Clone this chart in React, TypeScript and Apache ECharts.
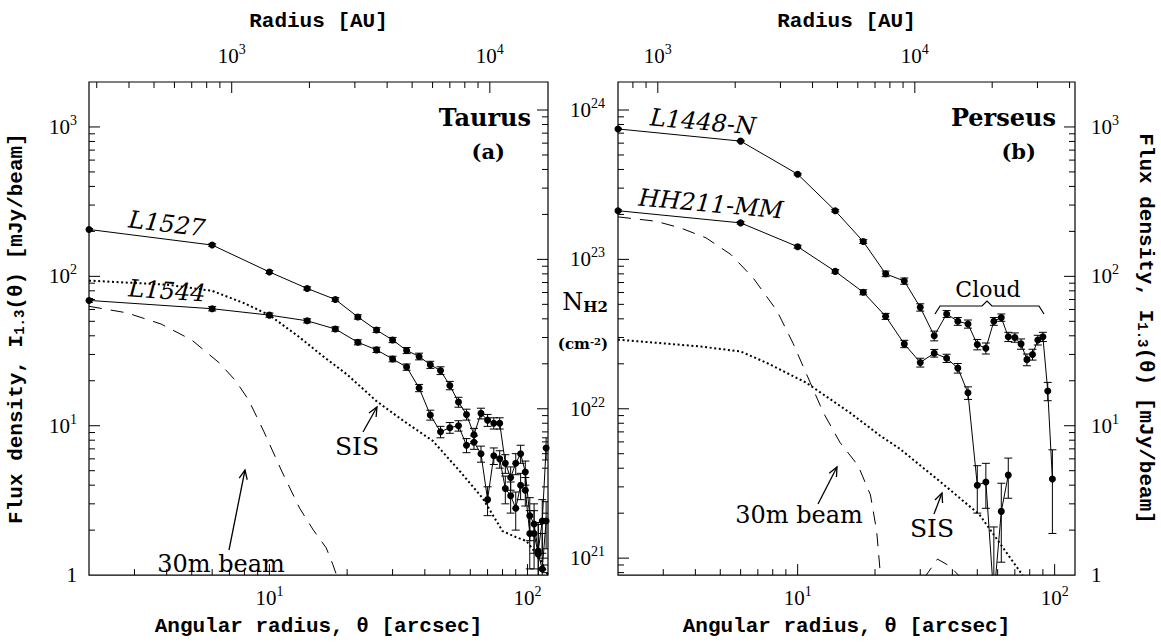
import React, { useEffect, useRef } from 'react';
import * as echarts from 'echarts';

// ---------- axis ranges & conversions ----------
const THETA_MIN = 2;
const THETA_MAX = 120;
const FLUX_MIN = 1;
const FLUX_MAX = 2000;
const D_TAURUS = 140; // pc -> AU per arcsec
const D_PERSEUS = 350;
const N_PER_MJY = 7.7e20; // N_H2 (cm^-2) per mJy/beam

// ---------- Taurus (a) ----------
const TAURUS_THETA = [2, 6, 10, 14, 18, 22, 26, 30, 34, 38, 42, 46, 50, 54, 58, 62, 66, 70, 74, 78, 82, 86, 90, 94, 98, 102, 106, 110, 114, 118];
const L1527_FLUX = [206, 162, 107, 83, 70, 53.5, 43.7, 37.5, 31.9, 29.1, 25.6, 23.4, 18.6, 14.4, 11.9, 8.7, 12.1, 10.9, 10.4, 10.4, 5.6, 4.5, 5.6, 6.5, 4.9, 2.5, 2.2, 1.45, 2.3, 7.1];
const L1527_ERR = [3, 3, 2.5, 2, 2, 1.8, 1.6, 1.5, 1.5, 1.5, 1.4, 1.4, 1.2, 1.1, 1.0, 0.9, 1.0, 1.0, 0.9, 0.9, 0.8, 0.8, 0.9, 0.9, 0.9, 0.8, 0.8, 0.8, 0.9, 1.2];
const L1544_FLUX = [69, 60.7, 55, 50.4, 44.4, 36.2, 32.2, 28, 24.7, 17.9, 11.8, 9.1, 9.7, 10, 7.4, 7.75, 6.5, 3.2, 6.3, 6.0, 3.8, 3.4, 2.8, 4.0, 3.7, 1.9, 1.9, 1.38, 1.1, 2.3];
const L1544_ERR = [2, 2, 1.8, 1.6, 1.5, 1.4, 1.3, 1.2, 1.2, 1.0, 0.9, 0.8, 0.8, 0.8, 0.8, 0.8, 0.8, 0.7, 0.8, 0.8, 0.8, 0.8, 0.8, 0.8, 0.8, 0.8, 0.8, 0.8, 0.8, 0.8];
const TAURUS_SIS_THETA = [2, 4, 6, 8, 10, 13, 16, 20, 26, 33, 43, 55, 67, 80, 90, 99, 111, 120];
const TAURUS_SIS_FLUX = [93.6, 88, 80, 66, 55, 39.4, 29.5, 22, 14.6, 10.8, 7.9, 4.9, 3.27, 1.97, 1.8, 1.69, 1.31, 1.0];
const TAURUS_BEAM_THETA = [2, 2.8, 3.8, 5, 6.4, 7.4, 8.3, 9.5, 11.2, 13.1, 14.8, 16.6, 17.6, 18.2];
const TAURUS_BEAM_FLUX = [63, 57, 48, 37.5, 26.3, 20, 14.9, 9.2, 4.9, 2.8, 2.0, 1.52, 1.18, 1.0];

// ---------- Perseus (b) ----------
const PERSEUS_THETA = [2, 6, 10, 14, 18, 22, 26, 30, 34, 38, 42, 46, 50, 54, 58, 62, 66, 70, 74, 78, 82, 86, 90, 94, 98];
const L1448N_FLUX = [970, 804, 483, 275, 171, 104, 93, 62, 40, 56, 50, 48, 35, 33, 50, 53, 39.4, 39, 35.3, 27.7, 30, 37.5, 39.4, 17.1, 4.4];
const L1448N_ERR = [10, 8, 6, 5, 5, 4.5, 4.5, 3.5, 3, 3, 3, 3, 2.8, 2.8, 3, 3, 2.8, 2.8, 2.8, 2.5, 2.5, 2.8, 2.8, 2.4, 2.5];
const HH211_THETA = [2, 6, 10, 14, 18, 22, 26, 30, 34, 38, 42, 46, 50, 54, 58, 62, 66];
const HH211_FLUX = [275, 228, 158, 108, 78.3, 54, 35.3, 26.5, 30.6, 28.3, 24.3, 16.6, 4.0, 4.2, 0.7, 2.67, 4.67];
const HH211_ERR = [4, 4, 3.5, 3, 3, 2.5, 2, 1.8, 1.8, 1.8, 1.8, 1.6, 1.4, 1.4, 1.4, 1.45, 1.4];
const PERSEUS_SIS_THETA = [2, 4.2, 6, 7.6, 10.8, 16, 20.9, 25, 36, 51, 75];
const PERSEUS_SIS_FLUX = [37.7, 33.9, 31.4, 26.3, 19.4, 12.2, 8.6, 7.0, 4.2, 2.54, 1.0];
const PERSEUS_BEAM_THETA = [2, 2.8, 3.5, 4.4, 5.5, 6.7, 8.3, 9.6, 11.2, 12.6, 14.6, 17.2, 19.2, 20.3, 21];
const PERSEUS_BEAM_FLUX = [250, 234, 211, 181, 140, 98, 59, 35.6, 19.4, 12.2, 7.75, 5.4, 3.44, 1.97, 1.0];
const PERSEUS_LOBE_THETA = [31, 35, 39, 43];
const PERSEUS_LOBE_FLUX = [0.95, 1.28, 1.15, 0.97];

// ---------- fonts ----------
const TICKFONT = "'Liberation Serif', serif";
const MONO = "'Liberation Mono', monospace";

function powLabel(v: number): string {
  const l = Math.log10(v);
  const r = Math.round(l);
  if (Math.abs(l - r) > 1e-4) return '';
  if (r === 0) return '{b|1}';
  return '{b|10}{sup|' + r + '}';
}

const tickLabel = (margin: number) => ({
  formatter: powLabel,
  fontFamily: TICKFONT,
  fontSize: 21,
  lineHeight: 27,
  color: '#000',
  margin,
  showMinLabel: true,
  showMaxLabel: true,
  rich: {
    b: { fontFamily: TICKFONT, fontSize: 21, lineHeight: 27, color: '#000' },
    sup: { fontFamily: TICKFONT, fontSize: 14, lineHeight: 14, color: '#000', verticalAlign: 'top' },
  },
});

function logTicks(lo: number, hi: number): [number, boolean][] {
  const out: [number, boolean][] = [];
  for (let e = Math.floor(Math.log10(lo)); e <= Math.ceil(Math.log10(hi)); e++) {
    for (let k = 1; k <= 9; k++) {
      const v = k * Math.pow(10, e);
      if (v > lo * 1.0001 && v < hi * 0.9999) out.push([v, k === 1]);
    }
  }
  return out;
}

function tickData(dist: number, leftIsN: boolean, rightIsN: boolean) {
  const d: number[][] = [];
  logTicks(THETA_MIN, THETA_MAX).forEach(([v, m]) => d.push([v, FLUX_MIN, 0, m ? 1 : 0]));
  logTicks(THETA_MIN * dist, THETA_MAX * dist).forEach(([v, m]) => d.push([v / dist, FLUX_MIN, 1, m ? 1 : 0]));
  const yTicks = (isN: boolean, side: number) => {
    if (isN) logTicks(FLUX_MIN * N_PER_MJY, FLUX_MAX * N_PER_MJY).forEach(([v, m]) => d.push([THETA_MIN, v / N_PER_MJY, side, m ? 1 : 0]));
    else logTicks(FLUX_MIN, FLUX_MAX).forEach(([v, m]) => d.push([THETA_MIN, v, side, m ? 1 : 0]));
  };
  yTicks(leftIsN, 2);
  yTicks(rightIsN, 3);
  return d;
}

function tickSeries(xIdx: number, yIdx: number, data: number[][]) {
  return {
    type: 'custom',
    xAxisIndex: xIdx,
    yAxisIndex: yIdx,
    silent: true,
    clip: false,
    z: 5,
    data,
    renderItem: (_p: any, api: any) => {
      const a = api.value(0);
      const b = api.value(1);
      const side = api.value(2);
      const len = api.value(3) ? 11 : 6;
      let shape;
      if (side === 0) {
        const p = api.coord([a, FLUX_MIN]);
        shape = { x1: p[0], y1: p[1], x2: p[0], y2: p[1] - len };
      } else if (side === 1) {
        const p = api.coord([a, FLUX_MAX]);
        shape = { x1: p[0], y1: p[1], x2: p[0], y2: p[1] + len };
      } else if (side === 2) {
        const p = api.coord([THETA_MIN, b]);
        shape = { x1: p[0], y1: p[1], x2: p[0] + len, y2: p[1] };
      } else {
        const p = api.coord([THETA_MAX, b]);
        shape = { x1: p[0], y1: p[1], x2: p[0] - len, y2: p[1] };
      }
      return { type: 'line', shape, style: { stroke: '#000', lineWidth: 1 } };
    },
  };
}

function errSeries(xIdx: number, yIdx: number, theta: number[], flux: number[], err: number[]) {
  return {
    type: 'custom',
    xAxisIndex: xIdx,
    yAxisIndex: yIdx,
    silent: true,
    clip: true,
    z: 3,
    data: theta.map((t, i) => [t, flux[i], err[i]]),
    renderItem: (_p: any, api: any) => {
      const x = api.value(0);
      const y = api.value(1);
      const e = api.value(2);
      const top = api.coord([x, y + e]);
      const bot = api.coord([x, Math.max(y - e, 0.01)]);
      const cx = top[0];
      const st = { stroke: '#000', lineWidth: 1 };
      return {
        type: 'group',
        children: [
          { type: 'line', shape: { x1: cx, y1: top[1], x2: cx, y2: bot[1] }, style: st },
          { type: 'line', shape: { x1: cx - 4, y1: top[1], x2: cx + 4, y2: top[1] }, style: st },
          { type: 'line', shape: { x1: cx - 4, y1: bot[1], x2: cx + 4, y2: bot[1] }, style: st },
        ],
      };
    },
  };
}

function dataLine(xIdx: number, yIdx: number, theta: number[], flux: number[]) {
  return {
    type: 'line',
    xAxisIndex: xIdx,
    yAxisIndex: yIdx,
    data: theta.map((t, i) => [t, flux[i]]),
    symbol: 'circle',
    symbolSize: 7,
    showAllSymbol: true,
    itemStyle: { color: '#000' },
    lineStyle: { color: '#000', width: 1 },
    clip: true,
    silent: true,
    z: 4,
  };
}

function styledLine(xIdx: number, yIdx: number, theta: number[], flux: number[], dash: number[], width: number) {
  return {
    type: 'line',
    xAxisIndex: xIdx,
    yAxisIndex: yIdx,
    data: theta.map((t, i) => [t, flux[i]]),
    symbol: 'none',
    lineStyle: { color: '#000', width, type: dash },
    clip: true,
    silent: true,
    z: 2,
  };
}

function arrow(x1: number, y1: number, x2: number, y2: number) {
  const ang = Math.atan2(y2 - y1, x2 - x1);
  const L = 10;
  const a = 0.42;
  return [
    { type: 'line', z: 10, shape: { x1, y1, x2, y2 }, style: { stroke: '#000', lineWidth: 1.3 } },
    {
      type: 'polyline',
      z: 10,
      shape: {
        points: [
          [x2 - L * Math.cos(ang - a), y2 - L * Math.sin(ang - a)],
          [x2, y2],
          [x2 - L * Math.cos(ang + a), y2 - L * Math.sin(ang + a)],
        ],
      },
      style: { stroke: '#000', fill: null, lineWidth: 1.3 },
    },
  ];
}

function label(text: string, x: number, y: number, font: string, opts: any = {}) {
  return {
    type: 'text',
    x,
    y,
    rotation: opts.rotation || 0,
    z: 10,
    style: {
      text,
      font,
      fill: '#000',
      textAlign: opts.align || 'center',
      textVerticalAlign: 'middle',
      rich: opts.rich,
    },
  };
}

const titleStyle = {
  fontFamily: MONO,
  fontSize: 21,
  fontWeight: 'bold',
  color: '#000',
  rich: {
    sub: { fontFamily: MONO, fontSize: 14, fontWeight: 'bold', color: '#000', verticalAlign: 'bottom', lineHeight: 14 },
  },
};

function buildOption() {
  const noLine = { show: false };
  const xAxis = [
    { type: 'log', logBase: 10, gridIndex: 0, position: 'bottom', min: THETA_MIN, max: THETA_MAX, axisLine: noLine, axisTick: noLine, splitLine: noLine, axisLabel: tickLabel(9),
      name: 'Angular radius, θ [arcsec]', nameLocation: 'middle', nameGap: 37, nameTextStyle: titleStyle },
    { type: 'log', logBase: 10, gridIndex: 0, position: 'top', min: THETA_MIN * D_TAURUS, max: THETA_MAX * D_TAURUS, axisLine: noLine, axisTick: noLine, splitLine: noLine, axisLabel: tickLabel(13),
      name: 'Radius [AU]', nameLocation: 'middle', nameGap: 50, nameTextStyle: titleStyle },
    { type: 'log', logBase: 10, gridIndex: 1, position: 'bottom', min: THETA_MIN, max: THETA_MAX, axisLine: noLine, axisTick: noLine, splitLine: noLine, axisLabel: tickLabel(9),
      name: 'Angular radius, θ [arcsec]', nameLocation: 'middle', nameGap: 37, nameTextStyle: titleStyle },
    { type: 'log', logBase: 10, gridIndex: 1, position: 'top', min: THETA_MIN * D_PERSEUS, max: THETA_MAX * D_PERSEUS, axisLine: noLine, axisTick: noLine, splitLine: noLine, axisLabel: tickLabel(13),
      name: 'Radius [AU]', nameLocation: 'middle', nameGap: 50, nameTextStyle: titleStyle },
  ];
  const yAxis = [
    { type: 'log', logBase: 10, gridIndex: 0, position: 'left', min: FLUX_MIN, max: FLUX_MAX, axisLine: noLine, axisTick: noLine, splitLine: noLine, axisLabel: tickLabel(12),
      name: 'Flux density, I{sub|1.3}(θ) [mJy/beam]', nameLocation: 'middle', nameRotate: 90, nameGap: 62, nameTextStyle: titleStyle },
    { type: 'log', logBase: 10, gridIndex: 1, position: 'left', min: FLUX_MIN * N_PER_MJY, max: FLUX_MAX * N_PER_MJY, axisLine: noLine, axisTick: noLine, splitLine: noLine, axisLabel: tickLabel(13) },
    { type: 'log', logBase: 10, gridIndex: 1, position: 'right', min: FLUX_MIN, max: FLUX_MAX, axisLine: noLine, axisTick: noLine, splitLine: noLine, axisLabel: tickLabel(16),
      name: 'Flux density, I{sub|1.3}(θ) [mJy/beam]', nameLocation: 'middle', nameRotate: -90, nameGap: 60, nameTextStyle: titleStyle },
  ];

  const series: any[] = [
    tickSeries(0, 0, tickData(D_TAURUS, false, true)),
    tickSeries(2, 2, tickData(D_PERSEUS, true, false)),
    styledLine(0, 0, TAURUS_SIS_THETA, TAURUS_SIS_FLUX, [2, 2.6], 2),
    styledLine(0, 0, TAURUS_BEAM_THETA, TAURUS_BEAM_FLUX, [13, 9], 1),
    errSeries(0, 0, TAURUS_THETA, L1527_FLUX, L1527_ERR),
    errSeries(0, 0, TAURUS_THETA, L1544_FLUX, L1544_ERR),
    dataLine(0, 0, TAURUS_THETA, L1527_FLUX),
    dataLine(0, 0, TAURUS_THETA, L1544_FLUX),
    styledLine(2, 2, PERSEUS_SIS_THETA, PERSEUS_SIS_FLUX, [2, 2.6], 2),
    styledLine(2, 2, PERSEUS_BEAM_THETA, PERSEUS_BEAM_FLUX, [13, 9], 1),
    styledLine(2, 2, PERSEUS_LOBE_THETA, PERSEUS_LOBE_FLUX, [13, 9], 1),
    errSeries(2, 2, PERSEUS_THETA, L1448N_FLUX, L1448N_ERR),
    errSeries(2, 2, HH211_THETA, HH211_FLUX, HH211_ERR),
    dataLine(2, 2, PERSEUS_THETA, L1448N_FLUX),
    dataLine(2, 2, HH211_THETA, HH211_FLUX),
  ];

  const italic = "italic 24px 'DejaVu Serif', serif";
  const annot = "24px 'DejaVu Serif', serif";
  const graphic: any[] = [
    label('L1527', 167, 224, italic, { rotation: -0.12 }),
    label('L1544', 167, 291, italic, { rotation: -0.07 }),
    label('L1448-N', 703, 122, italic, { rotation: -0.09 }),
    label('HH211-MM', 711, 204, italic, { rotation: -0.09 }),
    label('Taurus', 531, 117, "bold 24px 'DejaVu Serif', serif", { align: 'right' }),
    label('(a)', 505, 151, "bold 21px 'DejaVu Serif', serif", { align: 'right' }),
    label('Perseus', 1056, 117, "bold 24px 'DejaVu Serif', serif", { align: 'right' }),
    label('(b)', 1036, 151, "bold 21px 'DejaVu Serif', serif", { align: 'right' }),
    label('SIS', 357, 446, "25px 'DejaVu Serif', serif"),
    ...arrow(363, 432, 377, 407),
    label('SIS', 932, 528, "25px 'DejaVu Serif', serif"),
    ...arrow(934, 514, 942, 493),
    label('30m beam', 221, 564, annot),
    ...arrow(229, 550, 245, 470),
    label('30m beam', 799, 515, annot),
    ...arrow(818, 504, 837, 467),
    label('Cloud', 988, 289, "22px 'DejaVu Serif', serif"),
    {
      type: 'polyline',
      z: 10,
      shape: { points: [[935, 314], [940, 306], [982, 306], [987, 301], [992, 306], [1039, 306], [1044, 314]] },
      style: { stroke: '#000', fill: null, lineWidth: 1.2 },
    },
    label('N{sub|H2}', 585, 302, "24px 'DejaVu Serif', serif", {
      rich: { sub: { font: "bold 15px 'DejaVu Serif', serif", fill: '#000', verticalAlign: 'bottom', lineHeight: 12 } },
    }),
    label('(cm{sup|-2})', 583, 344, "bold 15px 'DejaVu Serif', serif", {
      rich: { sup: { font: "bold 10px 'DejaVu Serif', serif", fill: '#000', verticalAlign: 'top', lineHeight: 10 } },
    }),
  ];

  return {
    animation: false,
    backgroundColor: '#fff',
    grid: [
      { left: 89, top: 82, width: 459, height: 499, show: true, borderColor: '#000', borderWidth: 1.2, backgroundColor: 'transparent' },
      { left: 618, top: 82, width: 457, height: 499, show: true, borderColor: '#000', borderWidth: 1.2, backgroundColor: 'transparent' },
    ],
    xAxis,
    yAxis,
    series,
    graphic,
  };
}

export default function App() {
  const ref = useRef<HTMLDivElement>(null);
  useEffect(() => {
    document.body.style.margin = '0';
    if (!ref.current) return;
    const chart = echarts.init(ref.current, undefined, { renderer: 'svg' });
    chart.setOption(buildOption() as any);
    return () => chart.dispose();
  }, []);
  return <div ref={ref} style={{ width: 1161, height: 642 }} />;
}
